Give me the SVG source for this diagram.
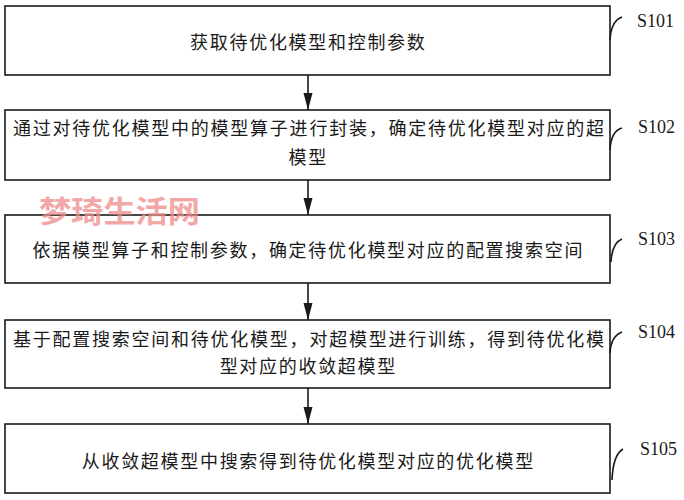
<svg xmlns="http://www.w3.org/2000/svg" width="684" height="500" viewBox="0 0 684 500">
<defs>
<style>
.box{fill:#fff;stroke:#1a1a1a;stroke-width:1.6}
.t{font-family:"Noto Sans CJK SC","Noto Sans",sans-serif;font-size:18px;letter-spacing:1.7px;fill:#1a1a1a;text-anchor:middle}
.tl{font-family:"Noto Sans CJK SC","Noto Sans",sans-serif;font-size:18px;fill:#1a1a1a}
.lbl{font-family:"Liberation Serif","Times New Roman",serif;font-size:18px;fill:#1a1a1a}
.lead{fill:none;stroke:#1a1a1a;stroke-width:1.6}
.conn{stroke:#1a1a1a;stroke-width:1.6}
.wm{font-family:"Noto Sans CJK SC","Noto Sans",sans-serif;font-size:30px;font-weight:bold;fill:#f08c8c;opacity:0.75}
</style>
<marker id="ah" markerUnits="userSpaceOnUse" markerWidth="17" markerHeight="10" refX="17" refY="4.5" orient="auto">
<path d="M0,0 L17,4.5 L0,9 z" fill="#1a1a1a"/>
</marker>
</defs>
<rect width="684" height="500" fill="#fff"/>
<g id="S101">
<rect class="box" x="5" y="6" width="605" height="69"/>
<text class="t" x="308.3" y="48.5">获取待优化模型和控制参数</text>
<path class="lead" d="M610,40 Q611,21 622,17"/>
<text class="lbl" x="637" y="27">S101</text>
</g>
<g id="S102">
<rect class="box" x="5" y="110" width="605" height="70"/>
<text class="tl" x="13" y="135" textLength="591" lengthAdjust="spacing">通过对待优化模型中的模型算子进行封装，确定待优化模型对应的超</text>
<text class="t" x="308.3" y="164">模型</text>
<path class="lead" d="M610,150 Q611,131 622,128"/>
<text class="lbl" x="638" y="133">S102</text>
</g>
<g id="S103">
<rect class="box" x="5" y="215" width="605" height="68"/>
<text class="t" x="308.3" y="257">依据模型算子和控制参数，确定待优化模型对应的配置搜索空间</text>
<path class="lead" d="M611,262 Q612,243 622,239"/>
<text class="lbl" x="638" y="245">S103</text>
</g>
<g id="S104">
<rect class="box" x="5" y="320" width="605" height="68"/>
<text class="tl" x="13" y="346" textLength="591" lengthAdjust="spacing">基于配置搜索空间和待优化模型，对超模型进行训练，得到待优化模</text>
<text class="t" x="308.3" y="373">型对应的收敛超模型</text>
<path class="lead" d="M610,353 Q611,336 622,332"/>
<text class="lbl" x="638" y="338">S104</text>
</g>
<g id="S105">
<rect class="box" x="5" y="424" width="605" height="69"/>
<text class="t" x="308.3" y="468">从收敛超模型中搜索得到待优化模型对应的优化模型</text>
<path class="lead" d="M612,480 Q613,455 623,449"/>
<text class="lbl" x="640" y="455">S105</text>
</g>
<g id="connectors">
<line class="conn" x1="308" y1="75" x2="308" y2="110" marker-end="url(#ah)"/>
<line class="conn" x1="308" y1="180" x2="308" y2="215" marker-end="url(#ah)"/>
<line class="conn" x1="308" y1="283" x2="308" y2="320" marker-end="url(#ah)"/>
<line class="conn" x1="308" y1="388" x2="308" y2="424" marker-end="url(#ah)"/>
</g>
<text class="wm" x="39" y="222" textLength="161" lengthAdjust="spacingAndGlyphs">梦琦生活网</text>
</svg>
